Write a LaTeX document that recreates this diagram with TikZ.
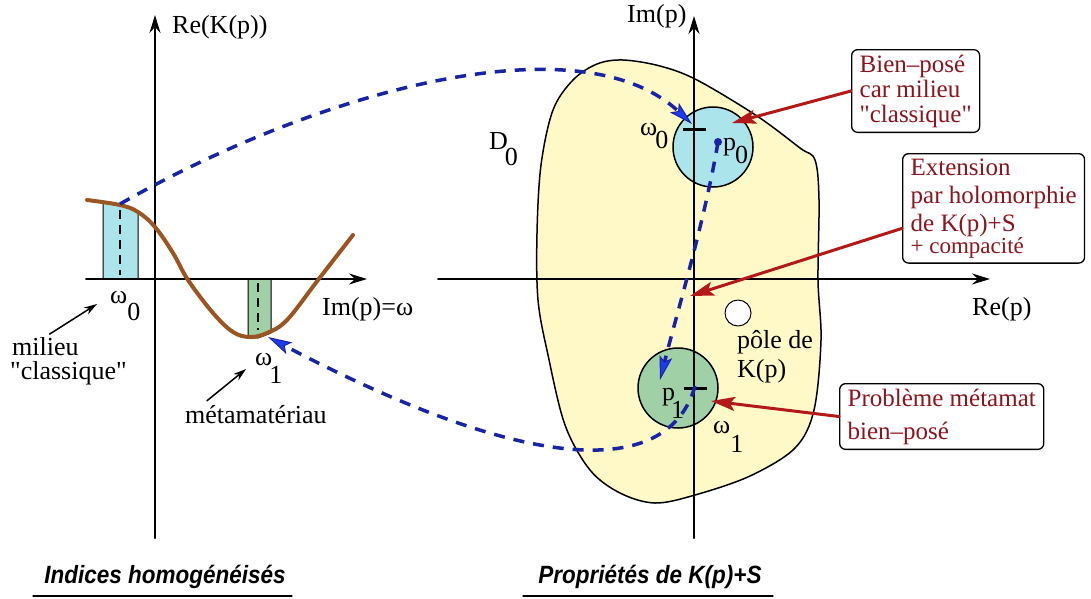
\documentclass[tikz,border=0pt]{standalone}
\usepackage{fontspec}
\setmainfont{Liberation Serif}[Ligatures=TeXOff]
\newfontfamily\titlefont[FakeStretch=0.9]{Liberation Sans}
\usetikzlibrary{arrows.meta}

\definecolor{blobyellow}{RGB}{255,249,200}
\definecolor{bandcyan}{RGB}{172,228,236}
\definecolor{bandgreen}{RGB}{160,208,165}
\definecolor{curvebrown}{RGB}{155,85,35}
\definecolor{dashblue}{RGB}{25,35,165}
\definecolor{tipblue}{RGB}{30,60,235}
\definecolor{notered}{RGB}{140,20,30}
\definecolor{arrowred}{RGB}{180,25,25}

% indice décalé (style xfig) : base, indice, crénage, descente
\newcommand\lowidx[4]{#1\kern#3\raisebox{#4}{#2}}

\tikzset{
  lbl/.style={anchor=base west, inner sep=0pt, font=\fontsize{26}{26}\selectfont},
  callout/.style={draw, rounded corners=6pt, fill=white, line width=1.3pt, text=notered,
    align=left, anchor=north west, inner xsep=8pt, inner ysep=5pt},
  axis/.style={line width=2pt, -{Stealth[length=18pt,width=11pt,inset=6pt]}},
  pathblue/.style={dashblue, line width=3.5pt, line cap=butt, dash pattern=on 11pt off 9pt,
    -{Stealth[length=24pt,width=13pt,inset=5pt,fill=tipblue,line width=1pt]}},
  pointer/.style={arrowred, line width=3pt, -{Stealth[length=24pt,width=14pt,inset=5pt]}},
  note/.style={line width=1.5pt, -{Stealth[length=13pt,width=8pt]}},
  band/.style={draw=black, line width=1pt},
  ticked/.style={line width=3pt, line cap=butt},
  title/.style={anchor=base, inner sep=0pt, font=\titlefont\bfseries\itshape\fontsize{25}{25}\selectfont},
}

\begin{document}
\begin{tikzpicture}[x=1pt, y=-1pt, line cap=round, line join=round]

  %% ════ 左图：两条色带 ════
  \filldraw[band, fill=bandcyan] (103,279) -- (103,202) -- (120,205) -- (138,212) -- (138,279) -- cycle;
  \filldraw[band, fill=bandgreen] (248,279) -- (248,337) -- (258,338) -- (271,333) -- (271,279) -- cycle;
  \draw[line width=2pt, line cap=butt, dash pattern=on 9pt off 6pt] (120,210) -- (120,275);
  \draw[line width=2pt, line cap=butt, dash pattern=on 9pt off 6pt] (258,283) -- (258,330);

  %% ════ 左图：坐标轴 ════
  \draw[axis] (86,279) -- (367,279);
  \draw[axis] (155,538) -- (155,15);

  %% ════ 左图：Re(K) 曲线 ════
  \draw[curvebrown, line width=4pt] plot[smooth, tension=0.6] coordinates {
    (87,200) (120,205) (138,212) (155,227) (173,253) (188,280) (213,313)
    (233,332) (250,337) (267,333) (287,320) (318,280) (353,235)};

  %% ════ 左图：标签 ════
  \node[lbl] (reK) at (172,33) {Re(K(p))};
  \node[lbl] (imw) at (322,315) {Im(p)=ω};
  \node[lbl] (w0L) at (110,303) {\lowidx{ω}{0}{0pt}{-17pt}};
  \node[lbl] (w1L) at (255,365) {\lowidx{ω}{1}{-3pt}{-18pt}};
  \node[lbl] (milieu) at (12,355) {milieu};
  \node[lbl] (classique) at (10,379) {"classique"};
  \node[lbl] (meta) at (185,423) {métamatériau};

  \coordinate (w0arrow) at (97,304);
  \coordinate (w1arrow) at (246,369);
  \draw[note, shorten <=5pt] (milieu.north) -- (w0arrow);
  \draw[note] ([xshift=22pt,yshift=4pt]meta.north west) -- (w1arrow);

  %% ════ 右图：区域 D0 ════
  \filldraw[fill=blobyellow, draw=black, line width=1.5pt] plot[smooth cycle, tension=0.55] coordinates {
    (623,60) (660,66) (697,80) (757,116) (800,148) (815,160) (819,200) (818,280)
    (821,340) (814,410) (795,448) (750,476) (695,495) (655,503) (620,493) (590,470)
    (565,425) (548,355) (538,300) (537,233) (541,165) (553,110) (573,80) (597,64)};

  %% ════ 右图：两个圆盘 + 极点 ════
  \filldraw[fill=bandcyan, draw=black, line width=1.5pt] (713,147) circle (40);
  \filldraw[fill=bandgreen, draw=black, line width=1.5pt] (678,388) circle (40);
  \filldraw[fill=white, draw=black, line width=1pt] (738,313) circle (13);

  %% ════ 右图：坐标轴 ════
  \draw[axis] (438,279) -- (990,279);
  \draw[axis] (694,538) -- (694,16);
  \draw[ticked] (683,129) -- (706,129);
  \draw[ticked] (684,388) -- (707,388);

  %% ════ 右图：标签 ════
  \node[lbl] (imp) at (627,22) {Im(p)};
  \node[lbl] (rep) at (972,315) {Re(p)};
  \node[lbl] (D0) at (489,149) {\lowidx{D}{0}{-3pt}{-16pt}};
  \node[lbl] (w0R) at (640,135) {\lowidx{ω}{0}{-2pt}{-13pt}};
  \node[lbl] (p0lbl) at (723,150) {\lowidx{p}{0}{-1pt}{-13pt}};
  \node[lbl] (p1lbl) at (662,400) {\lowidx{p}{1}{-4pt}{-18pt}};
  \node[lbl] (w1R) at (713,433) {\lowidx{ω}{1}{0pt}{-19pt}};
  \node[lbl, align=left, font=\fontsize{26}{29}\selectfont] (pole) at (737,377) {pôle de\\K(p)};

  %% ════ 蓝色虚线路径 ════
  \coordinate (w0top) at (120,204);
  \coordinate (p0hit) at (692,124);
  \coordinate (p0) at (718,142);
  \coordinate (p1hit) at (660,380);
  \coordinate (p1start) at (695,386);
  \coordinate (w1bot) at (268,337);
  \fill[dashblue] (p0) circle (4);
  \draw[pathblue] (w0top) .. controls (320,90) and (580,20) .. (p0hit);
  \draw[pathblue] (p0) .. controls (705,220) and (675,320) .. (p1hit);
  \draw[pathblue] (p1start) .. controls (670,475) and (540,480) .. (w1bot);

  %% ════ 红色说明框 ════
  \node[callout, font=\fontsize{25}{25}\selectfont] (bienpose) at (851,49) {Bien–posé\\car milieu\\"classique"};
  \node[callout, font=\fontsize{25}{28}\selectfont] (extension) at (902,153)
    {Extension\\par holomorphie\\de K(p)+S\\[-6pt]{\fontsize{23}{23}\selectfont + compacité}};
  \node[callout, font=\fontsize{25}{33}\selectfont] (metamat) at (839,383) {Problème métamat\\bien–posé};

  \coordinate (hitA) at (732,123);
  \coordinate (hitB) at (690,296);
  \coordinate (hitC) at (711,401);
  \draw[pointer] (bienpose.west) -- (hitA);
  \draw[pointer] ([yshift=-20pt]extension.west) -- (hitB);
  \draw[pointer] (metamat.west) -- (hitC);

  %% ════ 底部标题 ════
  \node[title] (titleL) at (165,583) {Indices homogénéisés};
  \node[title] (titleR) at (650,583) {Propriétés de K(p)+S};
  \draw[line width=1.2pt] (33,596) -- (292,596);
  \draw[line width=1.2pt] (523,596) -- (773,596);

  % 固定画布尺寸
  \pgfresetboundingbox
  \path[use as bounding box] (0,0) rectangle (1091,598);
\end{tikzpicture}
\end{document}
